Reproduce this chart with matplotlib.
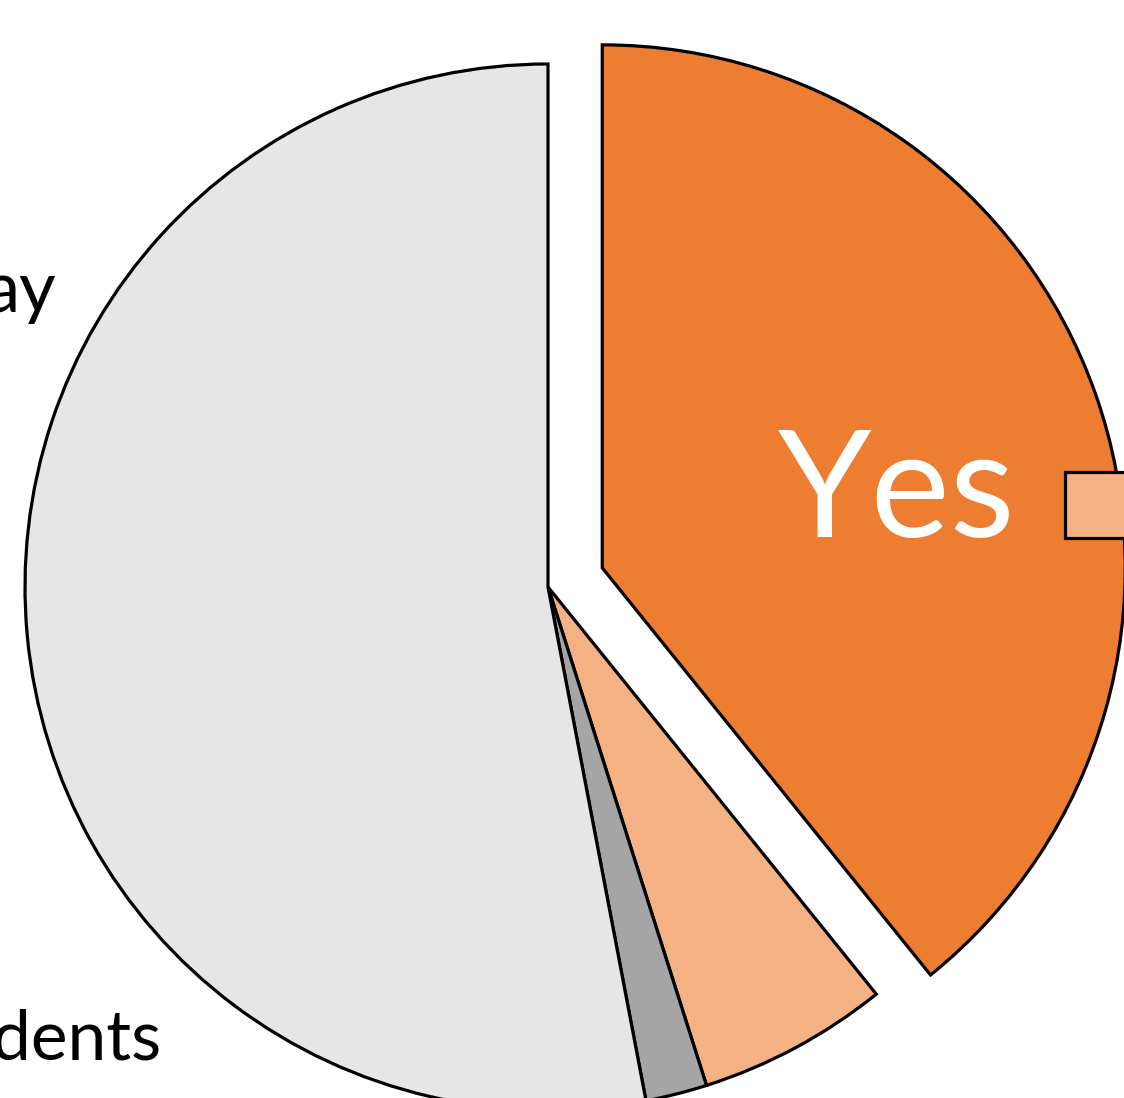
"""Cropped pie: share answering Yes (exploded) vs other answers."""

import matplotlib

matplotlib.use("Agg")
import matplotlib.pyplot as plt
from matplotlib.patches import Rectangle

plt.rcParams["font.family"] = ["Lato", "DejaVu Sans"]

# slice shares in %, clockwise from 12 o'clock
categories = ["Yes", "Partly", "Unsure", "No"]
shares = [39.2, 5.9, 1.9, 53.0]
colors = ["#ED7D31", "#F4B183", "#A5A5A5", "#E6E6E6"]
explode = [0.11, 0, 0, 0]
left_labels = ["ay", "dents"]

W, H = 1124, 1098
R = 523.0          # pie radius in pixels
CX, CY = 548, 587  # pie centre in pixels (from top-left)

fig = plt.figure(figsize=(W / 100, H / 100), dpi=100)
ax = fig.add_axes([0, 0, 1, 1])
wedges, _ = ax.pie(
    shares, colors=colors, explode=explode, startangle=90, counterclock=False,
    radius=1.0, wedgeprops=dict(edgecolor="black", linewidth=2.3),
)
ax.set_xlim(-CX / R, (W - CX) / R)
ax.set_ylim(-(H - CY) / R, CY / R)
ax.set_aspect("auto")
ax.axis("off")

ax.text((897 - CX) / R, (CY - 537) / R, categories[0], color="white",
        fontsize=108, ha="center", va="baseline")
ax.text((56 - CX) / R, (CY - 312) / R, left_labels[0], color="black",
        fontsize=51, ha="right", va="baseline")
ax.text((161 - CX) / R, (CY - 1059) / R, left_labels[1], color="black",
        fontsize=50, ha="right", va="baseline")

# legend swatch for the light-orange slice, cut off at the right edge
fig.patches.append(Rectangle((1065 / W, 1 - 538 / H), 66 / W, 66 / H,
                             transform=fig.transFigure, facecolor=colors[1],
                             edgecolor="black", linewidth=2.3))

fig.savefig("out.png", dpi=100)
